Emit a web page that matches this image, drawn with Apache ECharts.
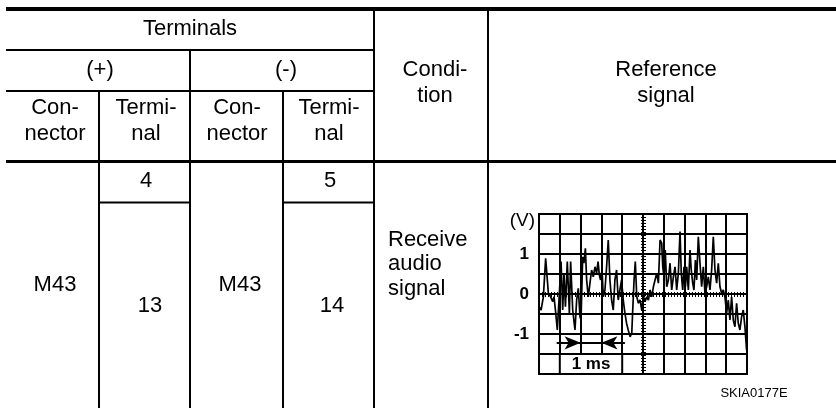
<!DOCTYPE html>
<html><head><meta charset="utf-8">
<script src="https://cdn.jsdelivr.net/npm/echarts@6/dist/echarts.min.js"></script>
<style>html,body{margin:0;padding:0;background:#fff}#c{width:836px;height:408px}</style>
</head><body><div id="c"></div>
<script>
// ---- table text ----
const headerTop = 'Terminals';
const polarity = ['(+)', '(-)'];
const subHeaders = ['Con-\nnector', 'Termi-\nnal', 'Con-\nnector', 'Termi-\nnal'];
const conditionHeader = 'Condi-\ntion';
const signalHeader = 'Reference\nsignal';
const connectors = ['M43', 'M43'];
const terminalsPlus = ['4', '13'];
const terminalsMinus = ['5', '14'];
const conditionText = 'Receive\naudio\nsignal';
const figureCode = 'SKIA0177E';
// ---- oscilloscope axes ----
const yTickValues = [1, 0, -1];
const yTickLabels = ['1', '0', '-1'];
const yUnit = '(V)';
const scaleLabel = '1 ms';
const scaleBox = [1, 4, -2, -1.5];          // t0, t1, v0, v1
const scaleArrow = [0.85, 2, 3, 4.13, -1.22]; // start, tip1, tip2, end, level
// ---- signal (time ms, volts) ----
const signalTime = [0.00,0.10,0.21,0.32,0.45,0.56,0.66,0.72,0.79,0.88,
0.98,1.06,1.14,1.20,1.27,1.36,1.46,1.52,1.62,1.73,
1.81,1.89,1.97,2.02,2.10,2.16,2.23,2.29,2.37,2.45,
2.53,2.61,2.69,2.77,2.84,2.90,2.96,3.03,3.09,3.17,
3.25,3.33,3.41,3.49,3.57,3.65,3.73,3.81,3.89,3.97,
4.05,4.13,4.21,4.29,4.38,4.46,4.50,4.57,4.63,4.70,
4.78,4.86,4.94,5.02,5.10,5.18,5.26,5.34,5.42,5.50,
5.58,5.66,5.74,5.82,5.90,5.95,6.01,6.07,6.14,6.22,
6.30,6.38,6.46,6.54,6.62,6.70,6.78,6.84,6.91,6.97,
7.04,7.10,7.18,7.26,7.32,7.39,7.45,7.52,7.58,7.66,
7.74,7.82,7.90,7.98,8.06,8.14,8.22,8.30,8.38,8.46,
8.54,8.62,8.70,8.78,8.86,8.94,9.02,9.10,9.18,9.26,
9.34,9.42,9.50,9.58,9.66,9.74,9.82,9.90,9.98];
const signalVolt = [-0.32,-0.40,-0.07,0.89,0.02,-0.07,-0.19,-0.07,-0.40,-0.90,
0.02,0.81,-0.40,0.52,-0.32,0.81,-0.48,0.81,-0.40,-0.90,
-0.15,0.14,-0.57,-0.65,0.93,0.77,1.14,0.35,-0.07,0.27,
0.60,0.43,0.68,0.52,0.81,0.48,0.35,0.60,-0.07,0.10,
0.68,1.35,0.35,-0.15,-0.40,0.35,0.60,-0.15,0.10,0.35,
-0.15,-0.48,-0.73,-0.90,-1.07,-0.98,-0.48,0.35,0.81,-0.07,
-0.23,-0.15,-0.40,-0.07,-0.19,-0.07,-0.15,0.10,-0.07,0.18,
0.35,0.52,0.27,1.35,1.27,0.68,0.43,1.10,0.18,0.35,
0.77,0.10,0.43,0.68,0.10,0.52,1.56,0.52,0.10,0.68,
0.18,0.68,0.10,1.10,0.60,0.27,0.10,0.85,0.35,1.43,
0.77,0.18,0.68,0.02,0.18,0.43,0.10,0.60,1.43,0.60,
0.27,0.77,0.18,0.02,0.10,-0.07,-0.48,-0.15,-0.65,-0.07,
-0.65,-0.82,-0.23,-0.73,-0.90,-0.57,-0.40,-0.82,-1.40];

const FONT = '"Liberation Sans", Arial, Helvetica, sans-serif';
const chart = echarts.init(document.getElementById('c'), null, {renderer: 'canvas'});

function hline(x1, x2, y, w) { return {type: 'line', silent: true, shape: {x1, y1: y, x2, y2: y}, style: {stroke: '#000', lineWidth: w}}; }
function vline(x, y1, y2, w) { return {type: 'line', silent: true, shape: {x1: x, y1, x2: x, y2}, style: {stroke: '#000', lineWidth: w}}; }
function txt(s, x, y, align, size, lh, weight) {
  return {type: 'text', silent: true, x, y, style: {text: s, fill: '#000', font: (weight || 'normal') + ' ' + (size || 22) + 'px ' + FONT,
    align: align || 'center', verticalAlign: 'middle', lineHeight: lh || 26}};
}

const graphics = [
  hline(6, 836, 9, 4),
  hline(6, 374, 50, 2),
  hline(6, 374, 91, 2),
  hline(6, 836, 161.5, 3),
  hline(99, 190, 202.5, 2),
  hline(283, 374, 202.5, 2),
  vline(99, 91, 408, 2),
  vline(190, 50, 408, 2),
  vline(283, 91, 408, 2),
  vline(374, 11, 408, 2),
  vline(488, 11, 408, 2),
  txt(headerTop, 190, 29),
  txt(polarity[0], 100, 70),
  txt(polarity[1], 286, 70),
  txt(subHeaders[0], 55, 121),
  txt(subHeaders[1], 146, 121),
  txt(subHeaders[2], 237, 121),
  txt(subHeaders[3], 329, 121),
  txt(conditionHeader, 435, 83),
  txt(signalHeader, 666, 83),
  txt(terminalsPlus[0], 146, 181),
  txt(terminalsMinus[0], 330, 181),
  txt(connectors[0], 55, 285),
  txt(connectors[1], 240, 285),
  txt(terminalsPlus[1], 150, 306),
  txt(terminalsMinus[1], 332, 306),
  txt(conditionText, 388, 264, 'left', 22, 24.5),
  txt(figureCode, 754, 393, 'center', 13, 16),
  txt(yUnit, 535, 221, 'right', 19, 20)
];

const signalData = signalTime.map((t, i) => [t, signalVolt[i]]);

chart.setOption({
  animation: false,
  backgroundColor: '#fff',
  textStyle: {fontFamily: FONT},
  graphic: graphics,
  grid: {left: 539, top: 214, width: 208, height: 160, show: true, borderColor: '#000', borderWidth: 2, containLabel: false},
  xAxis: {type: 'value', min: 0, max: 10, interval: 1,
    axisLine: {show: false}, axisTick: {show: false}, axisLabel: {show: false},
    splitLine: {show: true, lineStyle: {color: '#000', width: 2}}},
  yAxis: {type: 'value', min: -2, max: 2, interval: 0.5,
    axisLine: {show: false}, axisTick: {show: false},
    axisLabel: {color: '#000', fontWeight: 'bold', fontSize: 17, fontFamily: FONT, margin: 10,
      formatter: v => { const k = yTickValues.indexOf(v); return k >= 0 ? yTickLabels[k] : ''; }},
    splitLine: {show: true, lineStyle: {color: '#000', width: 2}}},
  series: [
    {type: 'line', data: signalData, symbol: 'none', silent: true,
      lineStyle: {color: '#000', width: 1.7}, z: 5,
      markArea: {silent: true, itemStyle: {color: '#fff', borderColor: '#000', borderWidth: 2},
        label: {show: true, position: 'inside', color: '#000', fontWeight: 'bold', fontSize: 17, fontFamily: FONT},
        data: [[{name: scaleLabel, coord: [scaleBox[0], scaleBox[2]]}, {coord: [scaleBox[1], scaleBox[3]]}]]},
      markLine: {silent: true, symbol: 'none', label: {show: false},
        lineStyle: {color: '#000', width: 5, type: [1, 2]},
        data: [{xAxis: 5}, {yAxis: 0}]}},
    {type: 'line', data: [], silent: true,
      markLine: {silent: true, symbol: ['none', 'arrow'], symbolSize: [10, 16], label: {show: false},
        lineStyle: {color: '#000', width: 2, type: 'solid'},
        data: [
          [{coord: [scaleArrow[0], scaleArrow[4]]}, {coord: [scaleArrow[1], scaleArrow[4]]}],
          [{coord: [scaleArrow[3], scaleArrow[4]]}, {coord: [scaleArrow[2], scaleArrow[4]]}],
          [{coord: [scaleArrow[1], scaleArrow[4]], symbol: 'none'}, {coord: [scaleArrow[2], scaleArrow[4]], symbol: 'none'}]
        ]}}
  ]
});
</script></body></html>
